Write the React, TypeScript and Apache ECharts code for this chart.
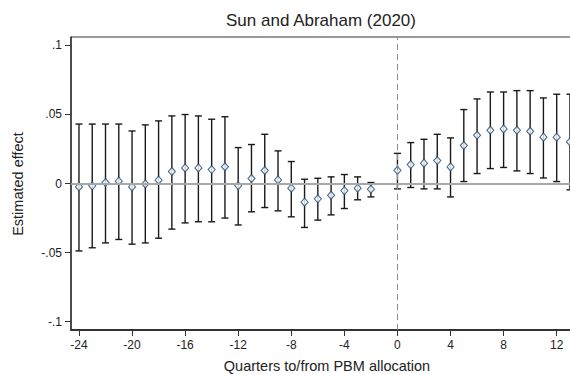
import React, { useEffect, useRef } from "react";
import * as echarts from "echarts";

const quarters = [-24, -23, -22, -21, -20, -19, -18, -17, -16, -15, -14, -13, -12, -11, -10, -9, -8, -7, -6, -5, -4, -3, -2, 0, 1, 2, 3, 4, 5, 6, 7, 8, 9, 10, 11, 12, 13];
const estimates = [-0.0025, -0.0017, 0.0007, 0.0017, -0.0025, -0.0003, 0.0024, 0.0087, 0.0113, 0.0113, 0.0101, 0.0121, -0.0015, 0.0036, 0.0094, 0.0026, -0.0034, -0.0135, -0.0111, -0.0085, -0.0051, -0.0034, -0.0041, 0.0095, 0.0137, 0.0147, 0.0166, 0.012, 0.0275, 0.0349, 0.0385, 0.0395, 0.0385, 0.0378, 0.0335, 0.0335, 0.0301];
const upper = [0.043, 0.043, 0.043, 0.043, 0.038, 0.0424, 0.0453, 0.0489, 0.0499, 0.0489, 0.0465, 0.0483, 0.026, 0.0282, 0.0356, 0.0236, 0.0159, 0.0031, 0.0038, 0.0048, 0.0065, 0.0048, 0.0007, 0.0218, 0.0296, 0.032, 0.0356, 0.033, 0.0535, 0.0612, 0.0662, 0.0662, 0.0672, 0.0672, 0.0619, 0.0646, 0.0646];
const lower = [-0.0488, -0.0465, -0.043, -0.0405, -0.0439, -0.043, -0.0396, -0.033, -0.0285, -0.0277, -0.0277, -0.025, -0.03, -0.0205, -0.0174, -0.0198, -0.0241, -0.0318, -0.0265, -0.0227, -0.0181, -0.0118, -0.0097, -0.0039, -0.0029, -0.0039, -0.0039, -0.0097, 0.0014, 0.0072, 0.0108, 0.0116, 0.0091, 0.0072, 0.004, 0.0014, -0.0046];
const xTicks = [-24, -20, -16, -12, -8, -4, 0, 4, 8, 12];
const yTicks = [-0.1, -0.05, 0, 0.05, 0.1];

const FONT = "'Liberation Sans', Arial, sans-serif";

export default function App() {
  const ref = useRef<HTMLDivElement>(null);
  useEffect(() => {
    if (!ref.current) return;
    const chart = echarts.init(ref.current, undefined, { renderer: "svg" });
    const barData = quarters.map((q, i) => [q, lower[i], upper[i]]);
    const ptData = quarters.map((q, i) => [q, estimates[i]]);
    chart.setOption({
      animation: false,
      backgroundColor: "#ffffff",
      grid: {
        left: 71,
        top: 37,
        height: 293,
        width: 525.5,
        outerBoundsMode: "none",
        containLabel: false,
        show: true,
        borderColor: "#333333",
        borderWidth: 1,
        backgroundColor: "transparent",
      },
      xAxis: {
        type: "value",
        min: -24.6,
        max: 15,
        splitLine: { show: false },
        axisLine: { show: true, onZero: false, lineStyle: { color: "#333333", width: 2 } },
        axisTick: { show: true, length: 6, customValues: xTicks, lineStyle: { color: "#333333", width: 1 } },
        axisLabel: {
          customValues: xTicks,
          margin: 9,
          fontSize: 12,
          color: "#222222",
          fontFamily: FONT,
          formatter: (v: number) => String(v),
        },
      },
      yAxis: {
        type: "value",
        min: -0.106,
        max: 0.106,
        splitLine: { show: false },
        axisLine: { show: true, onZero: false, lineStyle: { color: "#333333", width: 1.5 } },
        axisTick: { show: true, length: 6, customValues: yTicks, lineStyle: { color: "#333333", width: 1 } },
        axisLabel: {
          customValues: yTicks,
          margin: 9,
          fontSize: 12,
          color: "#222222",
          fontFamily: FONT,
          formatter: (v: number) => (Math.abs(v) < 1e-9 ? "0" : String(v).replace("0.", ".")),
        },
      },
      graphic: [
        {
          type: "text",
          x: 321,
          y: 20,
          style: { text: "Sun and Abraham (2020)", fontSize: 17, fontFamily: FONT, fill: "#222222", align: "center", verticalAlign: "middle" },
        },
        {
          type: "text",
          x: 327,
          y: 366,
          style: { text: "Quarters to/from PBM allocation", fontSize: 14.5, fontFamily: FONT, fill: "#222222", align: "center", verticalAlign: "middle" },
        },
        {
          type: "text",
          x: 17.5,
          y: 184,
          rotation: Math.PI / 2,
          style: { text: "Estimated effect", fontSize: 14.5, fontFamily: FONT, fill: "#222222", align: "center", verticalAlign: "middle" },
        },
      ],
      series: [
        {
          type: "line",
          data: [],
          z: 1,
          silent: true,
          markLine: {
            silent: true,
            symbol: "none",
            label: { show: false },
            data: [
              { yAxis: 0, lineStyle: { color: "#a8a8a8", width: 2, type: "solid" } },
              { xAxis: 0, lineStyle: { color: "#8c8c8c", width: 1, type: [6, 4] } },
            ],
          },
        },
        {
          type: "custom",
          z: 2,
          data: barData,
          renderItem: (params: any, api: any) => {
            const x = api.value(0);
            const lo = api.value(1);
            const hi = api.value(2);
            const p1 = api.coord([x, hi]);
            const p2 = api.coord([x, lo]);
            const w = 3.5;
            const style = { stroke: "#1a1a1a", lineWidth: 1.4 };
            return {
              type: "group",
              children: [
                { type: "line", shape: { x1: p1[0], y1: p1[1], x2: p2[0], y2: p2[1] }, style },
                { type: "line", shape: { x1: p1[0] - w, y1: p1[1], x2: p1[0] + w, y2: p1[1] }, style },
                { type: "line", shape: { x1: p2[0] - w, y1: p2[1], x2: p2[0] + w, y2: p2[1] }, style },
              ],
            };
          },
        },
        {
          type: "scatter",
          z: 3,
          data: ptData,
          symbol: "diamond",
          symbolSize: [7, 8],
          itemStyle: { color: "#ffffff", borderColor: "#1a476f", borderWidth: 1.1 },
        },
      ],
    });
    return () => chart.dispose();
  }, []);
  return <div ref={ref} style={{ position: "fixed", left: 0, top: 0, width: 570, height: 374 }} />;
}
